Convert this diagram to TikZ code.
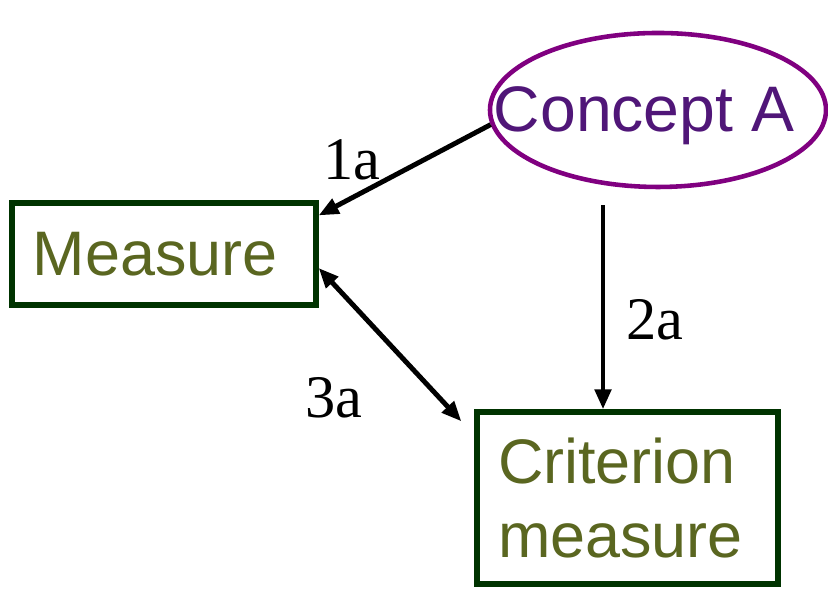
\documentclass[tikz,border=0pt]{standalone}
\usepackage{fontspec}
\setmainfont{Liberation Serif}
\setsansfont{Liberation Sans}
\usepackage{xcolor}
\usetikzlibrary{arrows.meta,shapes.geometric}

\definecolor{boxgreen}{RGB}{0,51,0}
\definecolor{olivetext}{RGB}{90,102,32}
\definecolor{conceptline}{RGB}{128,0,128}
\definecolor{concepttext}{RGB}{80,22,120}

\begin{document}
\begin{tikzpicture}[
  >={Triangle[length=0.2cm, width=0.16cm]},
  box/.style={draw=boxgreen, line width=1.5pt, text=olivetext, align=left,
    inner xsep=0.21cm, font=\sffamily\fontsize{17.9}{21.05}\selectfont},
  concept/.style={ellipse, draw=conceptline, line width=1.3pt,
    inner sep=0pt, minimum width=3.36cm, minimum height=1.54cm},
  concepttxt/.style={text=concepttext, inner sep=0pt,
    font=\sffamily\fontsize{18.3}{21}\selectfont},
  tag/.style={font=\fontsize{17.2}{20}\selectfont},
  flow/.style={->, line width=1.4pt}
]
  \useasboundingbox (0,0) rectangle (8.28,5.9);

  \node[concept] (conA) at (6.58,4.80) {};
  \node[concepttxt] (conAtxt) at (6.44,4.745) {Concept A};
  \node[box, text width=2.62cm, minimum height=1.02cm] (meas) at (1.64,3.36) {Measure};
  \node[box, text width=2.59cm, minimum height=1.72cm] (crit) at (6.275,0.92) {Criterion\\measure};

  \draw[flow] (conA.185) -- (meas.14);
  \draw[flow] ([shift={(-0.55,-0.16)}]conA.south) -- ([xshift=-0.245cm]crit.north);
  \draw[flow, <->] ([yshift=-0.14cm]meas.east) -- ([shift={(-0.13,-0.12)}]crit.north west);

  \node[tag] (tag1a) at (3.52,4.30) {1a};
  \node[tag] (tag2a) at (6.55,2.70) {2a};
  \node[tag] (tag3a) at (3.34,1.92) {3a};
\end{tikzpicture}
\end{document}
